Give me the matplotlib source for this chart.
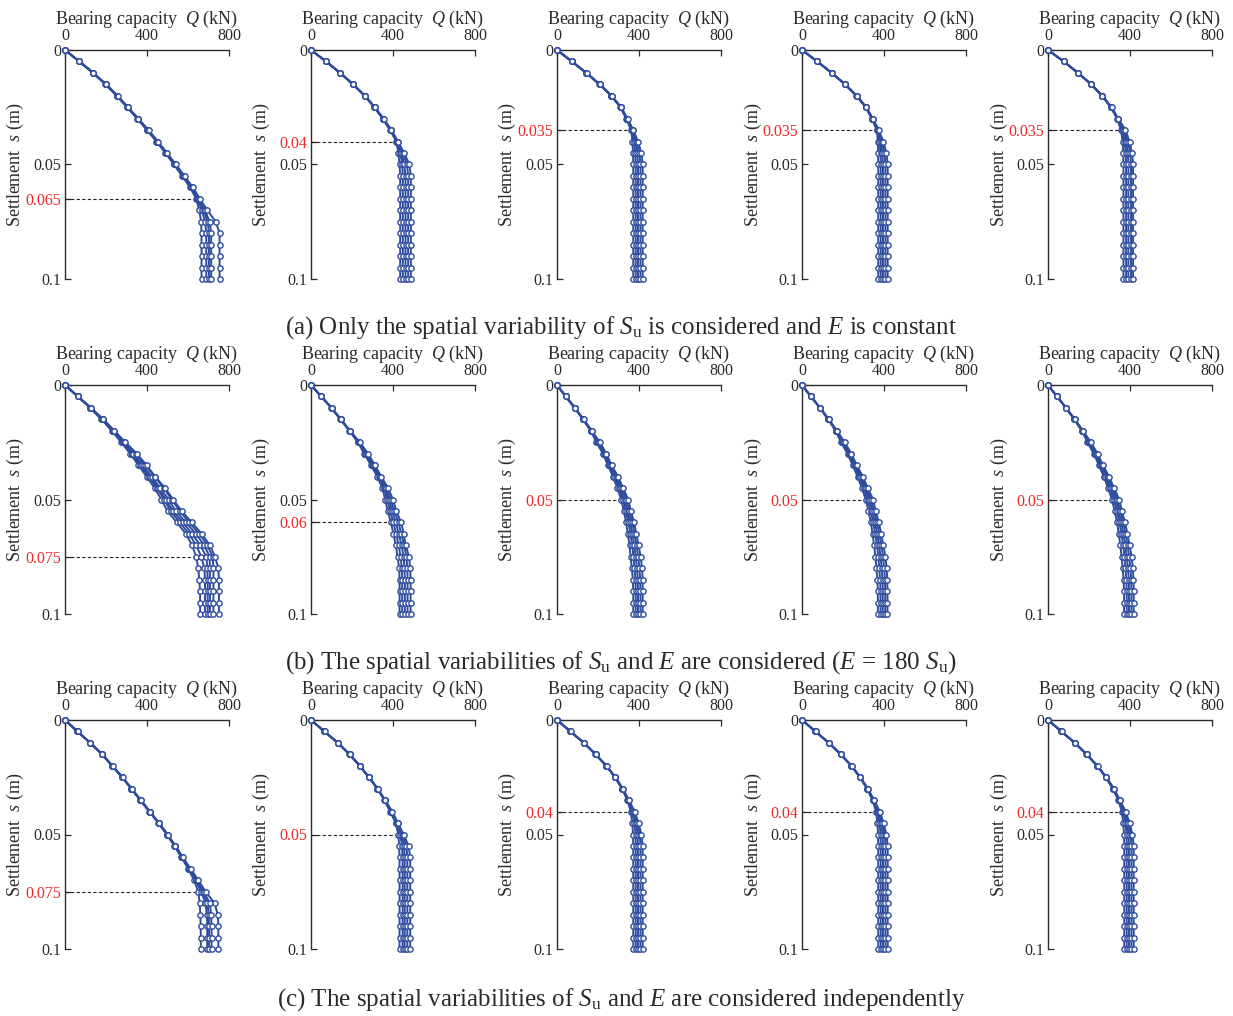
import matplotlib
matplotlib.use("Agg")
import matplotlib.pyplot as plt

plt.rcParams['font.family'] = ['Liberation Serif', 'DejaVu Serif']
plt.rcParams['mathtext.fontset'] = 'custom'
plt.rcParams['mathtext.rm'] = 'Liberation Serif'
plt.rcParams['mathtext.it'] = 'Liberation Serif:italic'

# Settlement grid (m)
S = [0.0, 0.005, 0.01, 0.015, 0.02, 0.025, 0.03, 0.035, 0.04, 0.045, 0.05,
     0.055, 0.06, 0.065, 0.07, 0.075, 0.08, 0.085, 0.09, 0.095, 0.1]

# ---- Row (a): only Su variable, E constant ----
Q_a1 = [
    [0, 69, 136, 197, 252, 303, 352, 400, 446, 490, 531, 571, 610, 640, 655, 664, 666, 666, 666, 666, 666],
    [0, 69, 137, 198, 253, 304, 354, 402, 448, 492, 534, 574, 614, 646, 668, 683, 689, 689, 689, 689, 689],
    [0, 69, 137, 199, 254, 305, 355, 404, 450, 494, 536, 577, 617, 650, 676, 696, 702, 702, 702, 702, 702],
    [0, 70, 138, 200, 255, 306, 356, 405, 451, 495, 538, 579, 619, 652, 682, 706, 713, 713, 713, 713, 713],
    [0, 70, 139, 201, 257, 308, 358, 408, 454, 498, 541, 583, 624, 658, 695, 735, 754, 754, 754, 754, 754],
]
Q_a2 = [
    [0, 73, 141, 204, 261, 308, 349, 386, 416, 426, 432, 435, 435, 435, 435, 435, 435, 435, 435, 435, 435],
    [0, 73, 142, 205, 262, 309, 351, 388, 418, 436, 445, 448, 448, 448, 448, 448, 448, 448, 448, 448, 448],
    [0, 73, 142, 205, 263, 310, 352, 390, 420, 441, 455, 461, 461, 461, 461, 461, 461, 461, 461, 461, 461],
    [0, 73, 142, 206, 263, 311, 353, 391, 422, 448, 468, 474, 474, 474, 474, 474, 474, 474, 474, 474, 474],
    [0, 74, 143, 206, 264, 312, 354, 392, 425, 455, 480, 487, 487, 487, 487, 487, 487, 487, 487, 487, 487],
]
Q_a3 = [
    [0, 72, 142, 207, 264, 309, 337, 362, 368, 371, 372, 372, 372, 372, 372, 372, 372, 372, 372, 372, 372],
    [0, 72, 143, 208, 265, 311, 340, 366, 376, 382, 384, 384, 384, 384, 384, 384, 384, 384, 384, 384, 384],
    [0, 72, 143, 208, 265, 311, 341, 368, 383, 392, 395, 395, 395, 395, 395, 395, 395, 395, 395, 395, 395],
    [0, 72, 143, 208, 266, 312, 342, 370, 388, 402, 407, 407, 407, 407, 407, 407, 407, 407, 407, 407, 407],
    [0, 73, 144, 209, 266, 313, 344, 373, 395, 412, 418, 418, 418, 418, 418, 418, 418, 418, 418, 418, 418],
]
Q_a4 = [
    [0, 74, 144, 209, 265, 310, 340, 365, 370, 371, 372, 372, 372, 372, 372, 372, 372, 372, 372, 372, 372],
    [0, 74, 145, 210, 266, 311, 342, 368, 378, 383, 384, 384, 384, 384, 384, 384, 384, 384, 384, 384, 384],
    [0, 74, 145, 210, 266, 312, 343, 370, 384, 392, 395, 395, 395, 395, 395, 395, 395, 395, 395, 395, 395],
    [0, 74, 145, 210, 267, 313, 344, 372, 390, 402, 407, 407, 407, 407, 407, 407, 407, 407, 407, 407, 407],
    [0, 75, 146, 211, 268, 314, 346, 375, 397, 412, 418, 418, 418, 418, 418, 418, 418, 418, 418, 418, 418],
]
Q_a5 = [
    [0, 76, 145, 210, 263, 306, 337, 356, 364, 367, 368, 368, 368, 368, 368, 368, 368, 368, 368, 368, 368],
    [0, 76, 146, 211, 264, 308, 340, 362, 374, 379, 381, 381, 381, 381, 381, 381, 381, 381, 381, 381, 381],
    [0, 76, 146, 211, 264, 308, 340, 366, 382, 389, 392, 392, 392, 392, 392, 392, 392, 392, 392, 392, 392],
    [0, 76, 146, 211, 265, 309, 341, 372, 390, 401, 405, 405, 405, 405, 405, 405, 405, 405, 405, 405, 405],
    [0, 77, 147, 212, 265, 310, 343, 378, 398, 410, 415, 415, 415, 415, 415, 415, 415, 415, 415, 415, 415],
]

# ---- Row (b): Su and E correlated (E = 180 Su) ----
Q_b1 = [
    [0, 62, 122, 178, 228, 274, 318, 358, 398, 437, 470, 500, 545, 590, 620, 640, 650, 655, 659, 659, 659],
    [0, 62, 124, 181, 232, 280, 325, 368, 408, 448, 484, 515, 560, 605, 640, 665, 680, 683, 683, 683, 683],
    [0, 62, 124, 182, 233, 281, 328, 372, 414, 455, 492, 526, 575, 620, 660, 690, 694, 696, 696, 696, 696],
    [0, 63, 125, 183, 235, 284, 333, 380, 422, 465, 505, 540, 590, 638, 680, 705, 707, 707, 707, 707, 707],
    [0, 63, 126, 185, 238, 290, 345, 392, 437, 482, 520, 560, 605, 655, 695, 720, 724, 724, 724, 724, 724],
    [0, 64, 127, 187, 241, 295, 350, 398, 440, 488, 528, 569, 618, 667, 707, 732, 748, 751, 751, 751, 751],
]
Q_b2 = [
    [0, 49, 99, 143, 187, 228, 260, 292, 323, 348, 362, 374, 390, 402, 414, 422, 430, 432, 432, 432, 432],
    [0, 49, 100, 144, 189, 231, 265, 298, 330, 356, 372, 386, 402, 415, 428, 437, 443, 445, 445, 445, 445],
    [0, 49, 100, 144, 189, 233, 269, 302, 335, 362, 380, 396, 414, 428, 442, 452, 456, 458, 458, 458, 458],
    [0, 50, 101, 145, 190, 235, 273, 307, 339, 368, 389, 406, 427, 440, 455, 465, 470, 471, 471, 471, 471],
    [0, 50, 101, 146, 191, 238, 279, 311, 343, 376, 400, 416, 440, 452, 462, 478, 484, 486, 486, 486, 486],
]
Q_b3 = [
    [0, 42, 86, 126, 165, 192, 224, 248, 273, 294, 313, 326, 337, 345, 354, 359, 365, 370, 372, 372, 372],
    [0, 42, 87, 127, 166, 197, 229, 254, 280, 301, 321, 336, 348, 358, 367, 373, 378, 383, 384, 384, 384],
    [0, 42, 87, 128, 168, 201, 233, 258, 286, 308, 330, 344, 357, 368, 377, 384, 390, 394, 395, 395, 395],
    [0, 43, 88, 129, 169, 205, 237, 262, 292, 315, 339, 352, 367, 378, 388, 396, 402, 406, 407, 407, 407],
    [0, 43, 88, 130, 170, 209, 241, 266, 298, 322, 348, 360, 376, 387, 398, 408, 415, 418, 418, 418, 418],
]
Q_b4 = [
    [0, 43, 87, 127, 164, 190, 222, 247, 271, 292, 311, 324, 336, 344, 352, 358, 363, 368, 370, 370, 370],
    [0, 43, 88, 128, 166, 196, 228, 253, 278, 300, 320, 335, 347, 357, 366, 372, 377, 381, 383, 383, 383],
    [0, 43, 88, 129, 168, 200, 232, 258, 285, 307, 329, 343, 356, 367, 376, 383, 389, 393, 394, 394, 394],
    [0, 43, 89, 130, 169, 204, 237, 263, 291, 314, 338, 351, 366, 377, 387, 395, 401, 405, 406, 406, 406],
    [0, 44, 89, 131, 171, 208, 241, 267, 297, 321, 347, 359, 375, 386, 397, 407, 413, 416, 417, 417, 417],
]
Q_b5 = [
    [0, 43, 87, 127, 165, 192, 223, 248, 272, 293, 312, 325, 337, 345, 353, 359, 364, 369, 371, 371, 371],
    [0, 43, 88, 128, 167, 197, 229, 254, 279, 301, 321, 336, 348, 358, 367, 373, 378, 382, 384, 384, 384],
    [0, 43, 88, 129, 168, 201, 233, 259, 286, 308, 330, 344, 357, 368, 377, 384, 390, 394, 395, 395, 395],
    [0, 44, 89, 130, 170, 205, 238, 264, 292, 315, 339, 352, 367, 378, 388, 396, 402, 406, 407, 407, 407],
    [0, 44, 89, 131, 171, 209, 242, 268, 298, 322, 348, 360, 376, 387, 398, 408, 414, 417, 418, 418, 418],
]

# ---- Row (c): Su and E independent ----
Q_c1 = [
    [0, 60, 122, 180, 229, 278, 323, 366, 411, 455, 496, 533, 568, 601, 630, 650, 657, 660, 662, 662, 662],
    [0, 60, 123, 181, 230, 279, 324, 368, 413, 457, 499, 537, 572, 605, 637, 664, 685, 692, 694, 694, 694],
    [0, 60, 123, 181, 230, 279, 324, 368, 413, 457, 499, 537, 572, 606, 640, 672, 695, 701, 703, 703, 703],
    [0, 61, 124, 182, 231, 280, 325, 369, 414, 458, 500, 538, 573, 608, 645, 678, 706, 713, 715, 715, 715],
    [0, 61, 124, 182, 232, 281, 326, 370, 415, 459, 501, 539, 575, 613, 651, 686, 730, 745, 748, 748, 748],
]
Q_c2 = [
    [0, 65, 130, 187, 237, 281, 323, 358, 386, 413, 426, 430, 432, 432, 432, 432, 432, 432, 432, 432, 432],
    [0, 65, 131, 188, 238, 282, 324, 359, 388, 417, 436, 444, 447, 447, 447, 447, 447, 447, 447, 447, 447],
    [0, 65, 131, 188, 238, 282, 324, 360, 390, 420, 442, 454, 457, 457, 457, 457, 457, 457, 457, 457, 457],
    [0, 65, 131, 188, 238, 283, 325, 361, 392, 422, 447, 465, 470, 470, 470, 470, 470, 470, 470, 470, 470],
    [0, 66, 132, 189, 239, 283, 326, 362, 397, 424, 452, 476, 484, 484, 484, 484, 484, 484, 484, 484, 484],
]
Q_c3 = [
    [0, 65, 130, 187, 240, 282, 317, 343, 360, 367, 371, 372, 372, 372, 372, 372, 372, 372, 372, 372, 372],
    [0, 65, 131, 188, 241, 283, 318, 346, 366, 378, 383, 384, 384, 384, 384, 384, 384, 384, 384, 384, 384],
    [0, 65, 131, 188, 241, 283, 319, 347, 370, 386, 393, 395, 395, 395, 395, 395, 395, 395, 395, 395, 395],
    [0, 65, 131, 188, 241, 284, 320, 349, 374, 392, 404, 407, 407, 407, 407, 407, 407, 407, 407, 407, 407],
    [0, 66, 132, 189, 242, 285, 322, 351, 379, 398, 412, 418, 418, 418, 418, 418, 418, 418, 418, 418, 418],
]
Q_c4 = [
    [0, 65, 130, 188, 240, 282, 317, 344, 361, 368, 371, 372, 372, 372, 372, 372, 372, 372, 372, 372, 372],
    [0, 65, 131, 188, 241, 283, 318, 346, 367, 378, 383, 384, 384, 384, 384, 384, 384, 384, 384, 384, 384],
    [0, 65, 131, 189, 241, 283, 319, 348, 371, 386, 393, 395, 395, 395, 395, 395, 395, 395, 395, 395, 395],
    [0, 66, 131, 189, 242, 284, 320, 349, 375, 392, 404, 407, 407, 407, 407, 407, 407, 407, 407, 407, 407],
    [0, 66, 132, 190, 242, 285, 322, 352, 380, 398, 412, 418, 418, 418, 418, 418, 418, 418, 418, 418, 418],
]
Q_c5 = [
    [0, 65, 130, 187, 239, 281, 316, 343, 360, 367, 371, 372, 372, 372, 372, 372, 372, 372, 372, 372, 372],
    [0, 65, 130, 188, 240, 282, 318, 346, 366, 378, 383, 384, 384, 384, 384, 384, 384, 384, 384, 384, 384],
    [0, 65, 131, 188, 241, 283, 319, 347, 370, 386, 393, 395, 395, 395, 395, 395, 395, 395, 395, 395, 395],
    [0, 65, 131, 189, 241, 284, 320, 349, 374, 392, 404, 407, 407, 407, 407, 407, 407, 407, 407, 407, 407],
    [0, 66, 132, 189, 242, 285, 322, 351, 379, 398, 412, 418, 418, 418, 418, 418, 418, 418, 418, 418, 418],
]

# Yield settlement (red label) and Q where dashed line ends
yield_a = [0.065, 0.04, 0.035, 0.035, 0.035]
yield_b = [0.075, 0.06, 0.05, 0.05, 0.05]
yield_c = [0.075, 0.05, 0.04, 0.04, 0.04]
dash_a = [677, 427, 372, 374, 378]
dash_b = [707, 440, 347, 347, 347]
dash_c = [686, 457, 387, 387, 387]

x_ticks = [0, 400, 800]
y_ticks = [0, 0.05, 0.1]

captions = [
    r'(a) Only the spatial variability of $S_\mathrm{u}$ is considered and $E$ is constant',
    r'(b) The spatial variabilities of $S_\mathrm{u}$ and $E$ are considered ($E$ = 180 $S_\mathrm{u}$)',
    r'(c) The spatial variabilities of $S_\mathrm{u}$ and $E$ are considered independently',
]

rows = [
    ([Q_a1, Q_a2, Q_a3, Q_a4, Q_a5], yield_a, dash_a),
    ([Q_b1, Q_b2, Q_b3, Q_b4, Q_b5], yield_b, dash_b),
    ([Q_c1, Q_c2, Q_c3, Q_c4, Q_c5], yield_c, dash_c),
]

W, H = 1233, 1016
fig = plt.figure(figsize=(W / 100, H / 100), dpi=100)

lefts = [65, 311, 557, 802, 1048]
tops = [50, 385, 720]
pw, ph = 164, 229
caption_y = [328, 663, 1000]

LINE = '#2E4C9E'
TXT = '#2a2a2a'
RED = '#EE2828'


def fmt(v):
    if v == 0:
        return '0'
    return ('%.3f' % v).rstrip('0')


for r, (panels, ylds, dashes) in enumerate(rows):
    for c in range(5):
        ax = fig.add_axes([lefts[c] / W, 1 - (tops[r] + ph) / H, pw / W, ph / H])
        for q in panels[c]:
            ax.plot(q, S, '-o', color=LINE, lw=1.4, ms=3.8, mfc='white',
                    mec=LINE, mew=1.0, clip_on=False, zorder=3)
        y0 = ylds[c]
        ax.plot([0, dashes[c]], [y0, y0], ls=(0, (3, 2)), color='#222222', lw=0.8, zorder=2)
        ax.set_xlim(0, 800)
        ax.set_ylim(0.1, 0)
        ax.xaxis.tick_top()
        ax.xaxis.set_label_position('top')
        ax.set_xticks(x_ticks)
        ax.set_xticklabels([str(t) for t in x_ticks])
        yt = sorted(set(y_ticks + [y0]))
        ax.set_yticks(yt)
        ax.set_yticklabels([fmt(t) for t in yt])
        ax.tick_params(axis='both', direction='in', length=4, width=0.9,
                       labelsize=11.5, colors=TXT)
        for t, lab in zip(yt, ax.get_yticklabels()):
            lab.set_color(RED if abs(t - y0) < 1e-9 else TXT)
        ax.tick_params(axis='x', pad=4.5)
        ax.tick_params(axis='y', pad=2.5)
        for sp in ['right', 'bottom']:
            ax.spines[sp].set_visible(False)
        for sp in ['left', 'top']:
            ax.spines[sp].set_linewidth(1.0)
            ax.spines[sp].set_color(TXT)
        ax.set_xlabel(r'Bearing capacity  $Q$ (kN)', fontsize=13, color=TXT, labelpad=3)
        ax.set_ylabel(r'Settlement  $s$ (m)', fontsize=13, color=TXT)
        ax.yaxis.set_label_coords(-38.5 / pw, 0.5)
        ax.set_facecolor('none')
    fig.text(621 / W, 1 - caption_y[r] / H, captions[r], ha='center', va='center',
             fontsize=18, color=TXT)

fig.savefig('out.png', dpi=100, facecolor='white')
